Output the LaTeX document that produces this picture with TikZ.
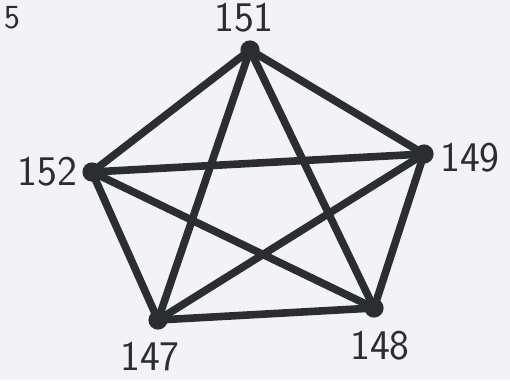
\documentclass[tikz,border=0pt]{standalone}
\usetikzlibrary{positioning}
\definecolor{kgInk}{HTML}{2A2E32}
\definecolor{kgPaper}{HTML}{F3F3F7}
\tikzset{
  kg canvas/.style={fill=kgPaper},
  kg edge/.style={draw=kgInk, line width=1.9mm, line cap=round},
  kg vertex/.style={circle, fill=kgInk, inner sep=0pt, minimum size=4.8mm},
  kg label/.style={font=\sffamily\fontsize{30}{32}\selectfont, text=kgInk, inner sep=0pt}
}

\begin{document}
\begin{tikzpicture}[x=0.025cm,y=-0.025cm]
  \path[kg canvas] (0,0) rectangle (510,380);
  \useasboundingbox (0,0) rectangle (510,380);

  % corner scrap of the page
  \node[kg label, anchor=north west, font=\sffamily\fontsize{24}{26}\selectfont] (scrap) at (4,6) {5};

  % vertices
  \node[kg vertex] (v151) at (250,50) {};
  \node[kg vertex] (v149) at (424,154) {};
  \node[kg vertex] (v148) at (374,308) {};
  \node[kg vertex] (v147) at (158,320) {};
  \node[kg vertex] (v152) at (92,172) {};

  % edges of the complete graph
  \foreach \a/\b in {151/149,151/148,151/147,151/152,149/148,149/147,149/152,148/147,148/152,147/152}
    \draw[kg edge] (v\a.center) -- (v\b.center);

  % labels
  \node[kg label, above=1.8mm of v151, xshift=-1.5mm] (l151) {151};
  \node[kg label, right=1.5mm of v149, yshift=-1mm] (l149) {149};
  \node[kg label, below=3.2mm of v148, xshift=1.5mm] (l148) {148};
  \node[kg label, below=3mm of v147, xshift=-2mm] (l147) {147};
  \node[kg label, left=1.2mm of v152] (l152) {152};
\end{tikzpicture}
\end{document}
